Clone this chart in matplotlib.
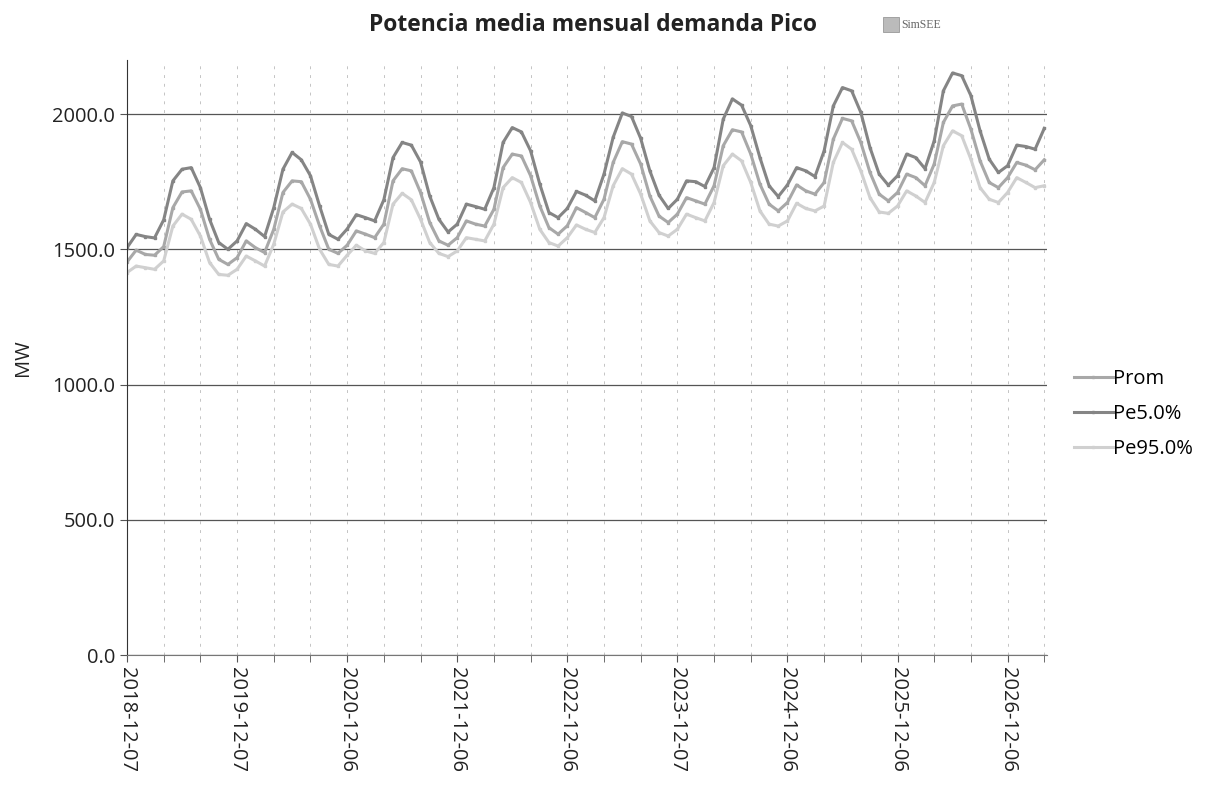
import matplotlib
matplotlib.use('Agg')
import matplotlib.pyplot as plt
from matplotlib.ticker import FixedLocator, MultipleLocator
import numpy as np

# monthly values, first month = 2018-12
prom = [1453, 1497, 1481, 1478, 1510, 1654, 1712, 1716, 1648, 1537, 1463, 1444,
        1469, 1531, 1506, 1488, 1574, 1710, 1753, 1750, 1685, 1586, 1500, 1485,
        1515, 1568, 1556, 1543, 1593, 1753, 1798, 1790, 1710, 1599, 1531, 1515,
        1543, 1605, 1593, 1586, 1648, 1802, 1852, 1845, 1772, 1660, 1580, 1556,
        1587, 1654, 1636, 1617, 1685, 1821, 1898, 1889, 1815, 1697, 1623, 1599,
        1630, 1691, 1679, 1667, 1735, 1883, 1942, 1934, 1852, 1741, 1667, 1642,
        1673, 1738, 1716, 1704, 1747, 1907, 1984, 1975, 1895, 1784, 1704, 1679,
        1710, 1778, 1765, 1735, 1815, 1969, 2030, 2037, 1944, 1827, 1747, 1728,
        1765, 1821, 1811, 1794, 1831]
pe5 = [1506, 1555, 1547, 1542, 1609, 1753, 1796, 1802, 1728, 1611, 1525, 1500,
       1531, 1595, 1574, 1547, 1654, 1796, 1858, 1831, 1772, 1660, 1555, 1537,
       1575, 1628, 1617, 1605, 1683, 1839, 1895, 1885, 1823, 1697, 1611, 1564,
       1593, 1667, 1658, 1648, 1728, 1895, 1950, 1934, 1864, 1741, 1636, 1617,
       1651, 1714, 1700, 1679, 1778, 1914, 2004, 1991, 1910, 1790, 1700, 1651,
       1685, 1753, 1750, 1732, 1802, 1981, 2056, 2033, 1957, 1839, 1735, 1695,
       1738, 1802, 1790, 1769, 1864, 2030, 2098, 2086, 2006, 1876, 1778, 1737,
       1772, 1852, 1839, 1798, 1901, 2086, 2152, 2142, 2068, 1938, 1833, 1784,
       1809, 1885, 1880, 1870, 1947]
pe95 = [1414, 1438, 1432, 1426, 1457, 1586, 1630, 1611, 1549, 1451, 1407, 1404,
        1426, 1475, 1457, 1438, 1519, 1638, 1667, 1651, 1593, 1500, 1444, 1438,
        1478, 1515, 1494, 1485, 1525, 1667, 1707, 1683, 1611, 1525, 1485, 1473,
        1494, 1543, 1537, 1531, 1593, 1728, 1765, 1747, 1673, 1574, 1525, 1512,
        1543, 1590, 1574, 1562, 1617, 1735, 1798, 1778, 1704, 1605, 1562, 1549,
        1574, 1630, 1617, 1605, 1673, 1809, 1852, 1827, 1747, 1642, 1593, 1586,
        1605, 1670, 1651, 1642, 1660, 1821, 1895, 1870, 1790, 1691, 1638, 1633,
        1660, 1716, 1697, 1673, 1747, 1883, 1938, 1920, 1833, 1728, 1685, 1673,
        1710, 1765, 1747, 1728, 1735]
date_labels = ['2018-12-07', '2019-12-07', '2020-12-06', '2021-12-06', '2022-12-06',
               '2023-12-07', '2024-12-06', '2025-12-06', '2026-12-06']

plt.rcParams['font.family'] = ['Open Sans', 'DejaVu Sans']

fig = plt.figure(figsize=(12.05, 7.85), dpi=100)
ax = fig.add_axes([0.1054, 0.1656, 0.7635, 0.758])

months = np.arange(len(prom))
ax.plot(months, prom, color='#a8a8a8', lw=2.2, marker='s', ms=2, label='Prom')
ax.plot(months, pe5, color='#858585', lw=2.2, marker='s', ms=2, label='Pe5.0%')
ax.plot(months, pe95, color='#d0d0d0', lw=2.2, marker='s', ms=2, label='Pe95.0%')

ax.set_xlim(0, 100.3)
ax.set_ylim(0, 2200)
ax.yaxis.set_major_locator(MultipleLocator(500))
ax.set_yticklabels([f'{v:.1f}' for v in ax.get_yticks()])
ax.xaxis.set_major_locator(FixedLocator(np.arange(len(date_labels)) * 12))
ax.set_xticklabels(date_labels, rotation=-90)
ax.xaxis.set_minor_locator(MultipleLocator(4))

ax.grid(axis='y', which='major', color='#555555', lw=0.9)
ax.grid(axis='x', which='both', color='#c4c4c4', lw=0.7, ls=(0, (3, 6)))
ax.set_axisbelow(True)
for s in ('top', 'right'):
    ax.spines[s].set_visible(False)
ax.spines['left'].set_color('#333333')
ax.spines['bottom'].set_color('#777777')
ax.tick_params(axis='both', labelsize=14.5, colors='#222222')
ax.tick_params(axis='x', which='both', length=5, color='#555555')
ax.tick_params(axis='y', length=5, color='#555555')
ax.set_ylabel('MW', fontsize=14.5, color='#222222', labelpad=14)

fig.text(0.492, 0.968, 'Potencia media mensual demanda Pico', ha='center', va='center',
         fontsize=16.5, fontweight='bold', color='#222222')
fig.text(0.748, 0.968, 'SimSEE', ha='left', va='center', fontsize=8.5,
         family='Liberation Serif', color='#666666')
fig.patches.append(plt.Rectangle((0.733, 0.959), 0.013, 0.019, transform=fig.transFigure,
                                 facecolor='#bbbbbb', edgecolor='#999999', lw=0.6))

ax.legend(loc='center left', bbox_to_anchor=(1.01, 0.405), frameon=False, fontsize=14.5,
          handlelength=1.9, handletextpad=0.0, labelspacing=0.75)

fig.savefig('out.png', dpi=100)
